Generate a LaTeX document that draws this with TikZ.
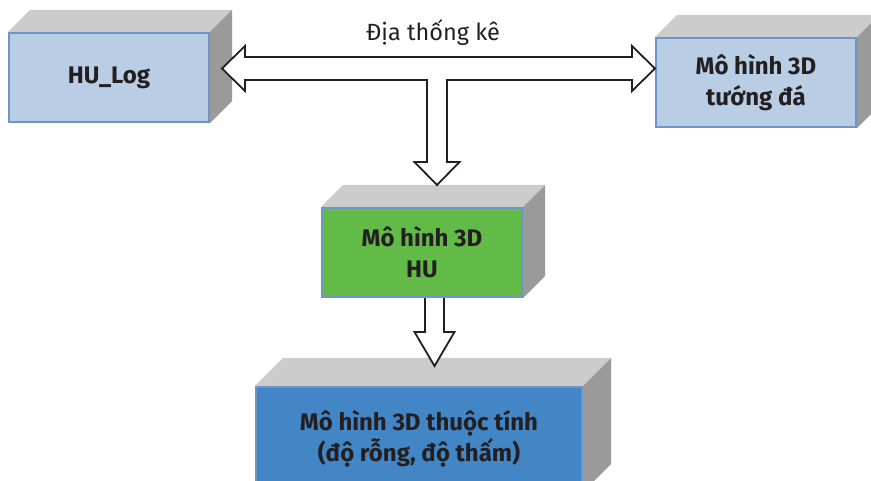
\documentclass[tikz,border=0pt]{standalone}
\usepackage{fontspec}
\setmainfont{Fira Sans}

\definecolor{logblue}{HTML}{B9CDE5}
\definecolor{edgeblue}{HTML}{7095C3}
\definecolor{hugreen}{HTML}{62BB47}
\definecolor{propblue}{HTML}{4286C6}
\definecolor{topgray}{HTML}{CCCCCC}
\definecolor{sidegray}{HTML}{9A9A9A}
\definecolor{inkdark}{HTML}{231F20}

\tikzset{
    block/.style={rectangle, draw=edgeblue, line width=2.2pt, minimum width=200pt, minimum height=89pt, align=center, text=inkdark, font=\fontsize{24}{31}\selectfont\bfseries},
    bigarrow/.style={draw=inkdark, fill=white, line width=1.8pt, line join=miter}
}

% top and right faces of a block: node name, depth
\newcommand{\blockfaces}[2]{%
    \fill[topgray] (#1.north west) -- (#1.north east) -- ++(#2,-#2) -- ([shift={(#2,-#2)}]#1.north west) -- cycle;
    \fill[sidegray] (#1.north east) -- ++(#2,-#2) -- ([shift={(#2,-#2)}]#1.south east) -- (#1.south east) -- cycle;
}

\begin{document}
\begin{tikzpicture}[x=1pt, y=-1pt]
\useasboundingbox (0,0) rectangle (871,481);
\clip (0,0) rectangle (871,481);

% Bottom block
\node (prop) [block, fill=propblue, minimum width=326pt, minimum height=104pt] at (419,439) {Mô hình 3D thuộc tính\\(độ rỗng, độ thấm)};
\blockfaces{prop}{28}

% Arrow HU -> properties
\coordinate (tipH) at (434.5,366);
\draw [bigarrow] (tipH) -- ++(20,-34) -- ++(-10.5,0) -- ++(0,-36) -- ++(-19,0) -- ++(0,36) -- ++(-10.5,0) -- cycle;

% Middle block
\node (hu) [block, fill=hugreen] at (422,252.5) {Mô hình 3D\\HU};
\blockfaces{hu}{22}

% Top blocks
\node (log) [block, fill=logblue] at (109,77.5) {HU\_Log};
\blockfaces{log}{22}
\node (rock) [block, fill=logblue] at (756,82.5) {Mô hình 3D\\tướng đá};
\blockfaces{rock}{22}

% T-shaped arrow between the top blocks and down to HU
\coordinate (tipL) at (222,68.5);
\coordinate (tipR) at (655,68.5);
\coordinate (tipD) at (437,185);
\draw [bigarrow] (tipL) -- ++(23,-22.5) -- ++(0,11) -- ++(387,0) -- ++(0,-11) -- (tipR)
    -- ++(-23,22.5) -- ++(0,-11) -- ++(-185,0) -- ++(0,82) -- ++(12.5,0) -- (tipD)
    -- ++(-22.5,-23) -- ++(12.5,0) -- ++(0,-82) -- ++(-182,0) -- ++(0,11) -- cycle;
\node (label) [text=inkdark, font=\fontsize{23.5}{28}\selectfont] at (433,33) {Địa thống kê};

\end{tikzpicture}
\end{document}
